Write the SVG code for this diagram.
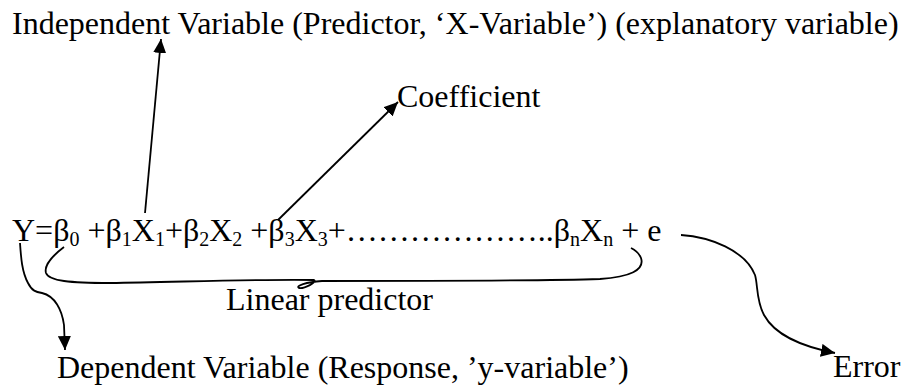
<svg xmlns="http://www.w3.org/2000/svg" width="908" height="388" viewBox="0 0 908 388">
<style>
text{font-family:"Liberation Serif","Times New Roman",serif;font-size:32px;fill:#000}
.sub{font-size:20px}
.c{fill:none;stroke:#000;stroke-width:1.8}
</style>
<defs>
<marker id="ah" markerUnits="userSpaceOnUse" markerWidth="15" markerHeight="13" refX="14" refY="6.5" orient="auto">
<path d="M0,0 L14,6.5 L0,13 z" fill="#000"/>
</marker>
</defs>
<rect width="908" height="388" fill="#fff"/>
<g id="independent"><text x="12" y="34">Independent Variable (Predictor, ‘X-Variable’) (explanatory variable)</text></g>
<g id="coefficient"><text x="397" y="107">Coefficient</text></g>
<g id="equation"><text x="12" y="241">Y=β<tspan class="sub" dy="5">0</tspan><tspan dy="-5"> +β</tspan><tspan class="sub" dy="5">1</tspan><tspan dy="-5">X</tspan><tspan class="sub" dy="5">1</tspan><tspan dy="-5">+β</tspan><tspan class="sub" dy="5">2</tspan><tspan dy="-5">X</tspan><tspan class="sub" dy="5">2</tspan><tspan dy="-5"> +β</tspan><tspan class="sub" dy="5">3</tspan><tspan dy="-5">X</tspan><tspan class="sub" dy="5">3</tspan><tspan dy="-5">+………………..β</tspan><tspan class="sub" dy="5">n</tspan><tspan dy="-5">X</tspan><tspan class="sub" dy="5">n</tspan><tspan dy="-5"> + e</tspan></text></g>
<g id="linear-predictor"><text x="226" y="310">Linear predictor</text></g>
<g id="dependent"><text x="57" y="378">Dependent Variable (Response, ’y-variable’)</text></g>
<g id="error"><text x="833" y="377">Error</text></g>
<g id="connectors">
<line class="c" x1="145" y1="213" x2="161" y2="39" marker-end="url(#ah)"/>
<line class="c" x1="278" y1="220" x2="398" y2="102" marker-end="url(#ah)"/>
<path class="c" d="M64,247 C52,256 44,266 46,273 C49,281 70,283 110,283 C180,282 260,279 314,280 C318,282 304,289 299,288 C295,286 306,282 322,281 C420,281 540,281 600,279 C630,277 645,270 641,258 C639,253 635,250 631,248"/>
<path class="c" d="M20,243 C21,258 22,272 28,283 C32,291 36,292 42,293 C55,296 62,310 64,325 L65,350" marker-end="url(#ah)"/>
<path class="c" d="M681,235 C710,237 745,250 755,275 C758,285 756,300 764,315 C775,335 800,346 835,353" marker-end="url(#ah)"/>
</g>
</svg>
